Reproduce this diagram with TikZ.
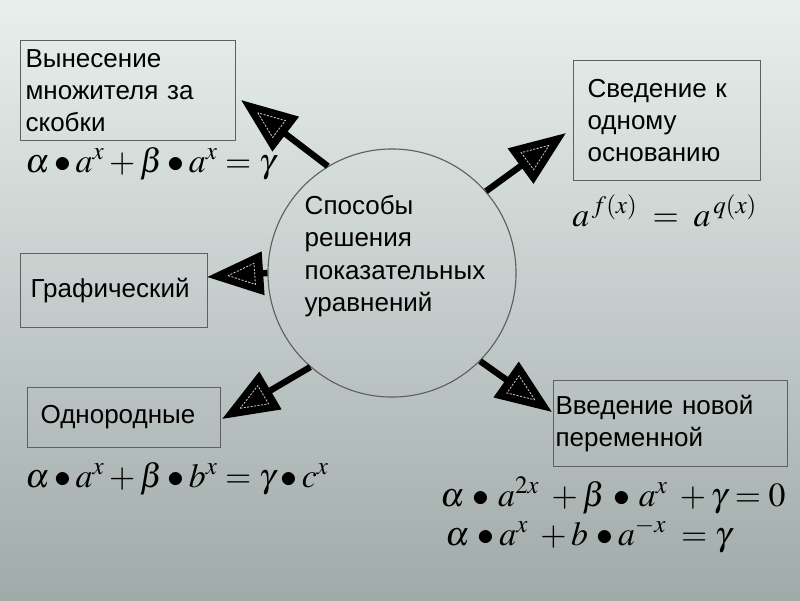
\documentclass[tikz,border=0pt]{standalone}
\usepackage{mathptmx}
\usepackage[no-math]{fontspec}
\setmainfont{Liberation Sans}
\usetikzlibrary{positioning,arrows.meta,calc}
\definecolor{SlideTop}{RGB}{232,240,238}
\definecolor{SlideMid}{RGB}{206,215,213}
\definecolor{SlideLow}{RGB}{160,170,168}
\definecolor{EdgeGray}{RGB}{95,95,95}

% dashed light triangle inside a big arrow head: #1 start, #2 tip
\newcommand{\tipmark}[2]{%
  \path ($(#2)!15pt!(#1)$) coordinate (m1)
        ($(#2)!34pt!(#1)$) coordinate (m0);
  \draw[tipdash] (m1) -- ($(m0)!7.5pt!90:(#2)$) -- ($(m0)!7.5pt!-90:(#2)$) -- cycle;}

\begin{document}
\begin{tikzpicture}[x=0.025cm, y=-0.025cm,
  every node/.style={font=\fontsize{18.5}{23}\selectfont, inner sep=0pt},
  meth/.style={draw=EdgeGray, line width=0.8pt, align=left, anchor=north west},
  arr/.style={line width=4.5pt, -{Triangle[length=40pt,width=30pt]}},
  tipdash/.style={draw=white!55!gray, line width=0.6pt, dash pattern=on 1.5pt off 1pt},
  eq/.style={anchor=base west, font=\fontsize{24}{28}\selectfont}
]
% slide background
\shade[top color=SlideTop, middle color=SlideMid, bottom color=SlideLow]
  (0,0) rectangle (800,600);
\useasboundingbox (0,0) rectangle (800,600);

% centre
\node[circle, draw=EdgeGray, line width=0.8pt, minimum size=6.2cm] (hub) at (392,273) {};
\node[align=left] (hubtxt) at (395,256) {Способы\\решения\\показательных\\уравнений};

% methods
\node[meth, minimum width=5.375cm, minimum height=2.5cm, inner xsep=0.125cm, text width=5.125cm]
  (b1) at (20,40) {Вынесение\\множителя за\\скобки};
\node[meth, minimum width=4.675cm, minimum height=3cm, inner xsep=0.35cm, text width=3.975cm]
  (b2) at (573,60) {Сведение к\\одному\\основанию};
\node[meth, minimum width=4.675cm, minimum height=1.85cm, inner xsep=0.25cm, text width=4.175cm]
  (b3) at (20,253) {Графический};
\node[meth, minimum width=4.825cm, minimum height=1.5cm, inner xsep=0.325cm, text width=4.175cm]
  (b4) at (27,387) {Однородные};
\node[meth, minimum width=5.85cm, minimum height=2.15cm, inner xsep=0.05cm, text width=5.75cm]
  (b5) at (553,380) {Введение новой\\переменной};

% formulas
\node[eq] (f1) at (25,172) {$\alpha\bullet a^{x}+\beta\bullet a^{x}=\gamma$};
\node[eq] (f2) at (572,226) {$a^{\,f(x)}\;=\;a^{\,q(x)}$};
\node[eq] (f3) at (25,487) {$\alpha\bullet a^{x}+\beta\bullet b^{x}=\gamma\bullet c^{x}$};
\node[eq] (f4) at (440,506) {$\alpha\,\bullet\, a^{2x}\;+\beta\,\bullet\, a^{x}\;+\gamma=0$};
\node[eq] (f5) at (445,545) {$\alpha\,\bullet a^{x}\;+b\,\bullet a^{-x}\;=\gamma$};

% arrow tips
\coordinate (t1) at (241,100);
\coordinate (t2) at (566,133);
\coordinate (t3) at (207,277);
\coordinate (t4) at (222,419);
\coordinate (t5) at (552,412);

\draw[arr] (hub.121) -- (t1);
\draw[arr] (hub.41) -- (t2);
\draw[arr] (hub.180) -- (t3);
\draw[arr] (hub.229) -- (t4);
\draw[arr] (hub.315) -- (t5);
\tipmark{hub.121}{t1}
\tipmark{hub.41}{t2}
\tipmark{hub.180}{t3}
\tipmark{hub.229}{t4}
\tipmark{hub.315}{t5}
\end{tikzpicture}
\end{document}
